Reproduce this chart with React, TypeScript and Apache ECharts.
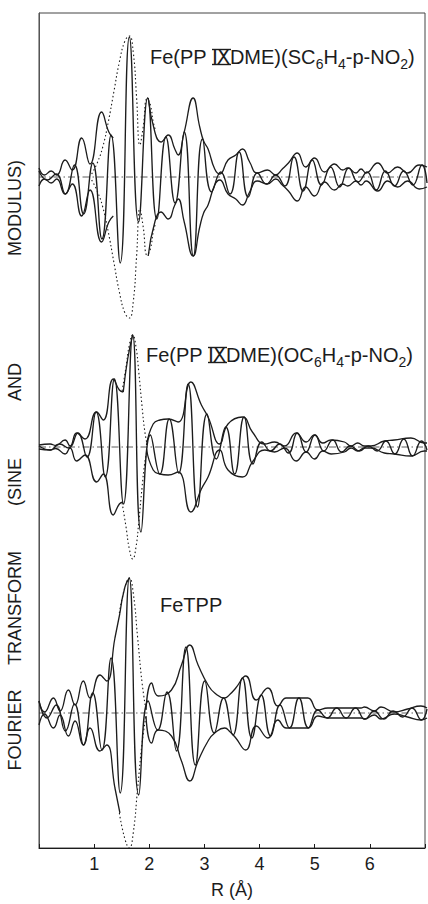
import React, { useEffect, useRef } from "react";
import * as echarts from "echarts";

// x axis (R, Å)
const xTickLabels = ["1", "2", "3", "4", "5", "6"];

// ---------- Panel 1: Fe(PP IX DME)(SC6H4-p-NO2) ----------
const env1Left: number[][] = [[0, 9], [0.1, 2], [0.22, 6], [0.32, 2], [0.47, 17], [0.6, 7], [0.77, 39], [0.92, 13], [1.13, 65], [1.26, 45], [1.34, 39]];
const env1Right: number[][] = [[1.97, 79], [2.09, 45], [2.2, 35], [2.33, 42], [2.45, 28], [2.51, 22], [2.62, 45], [2.78, 79], [2.9, 50], [2.97, 36], [3.05, 28], [3.17, 8], [3.26, 3], [3.41, 17], [3.55, 22], [3.67, 28], [3.8, 15], [3.94, 4], [4.12, 7], [4.27, 2], [4.39, 8], [4.5, 14], [4.66, 24], [4.81, 10], [4.97, 19], [5.15, 5], [5.33, 13], [5.48, 7], [5.57, 9], [5.72, 4], [5.81, 8], [5.9, 4], [6.11, 14], [6.29, 4], [6.47, 10], [6.65, 4], [6.86, 12], [7, 10]];
const env1UpperPeak: number[][] = [];
const dotted1: number[][] = [[0.95, 3], [1.05, 14], [1.15, 30], [1.25, 55], [1.35, 85], [1.45, 115], [1.55, 136], [1.63, 141], [1.7, 125], [1.76, 80], [1.82, 32], [1.88, 50], [1.95, 78], [2.01, 72], [2.06, 55], [2.1, 47]];
const sine1: number[][] = [[0, 6], [0.145, -3], [0.31, 3], [0.475, -17], [0.64, 12], [0.805, -37], [0.97, 14], [1.135, -62], [1.3, 42], [1.465, -86], [1.63, 140], [1.795, -45], [1.96, 79], [2.125, -42], [2.29, 40], [2.455, -26], [2.62, 45], [2.785, -79], [2.95, 38], [3.115, -15], [3.28, 5], [3.445, -17], [3.61, 25], [3.775, -20], [3.94, 4], [4.105, -7], [4.27, 2], [4.435, -9], [4.6, 20], [4.765, -14], [4.93, 17], [5.095, -8], [5.26, 10], [5.425, -10], [5.59, 9], [5.755, -5], [5.92, 5], [6.085, -13], [6.25, 6], [6.415, -9], [6.58, 6], [6.745, -8], [6.91, 12], [7, -6]];

// ---------- Panel 2: Fe(PP IX DME)(OC6H4-p-NO2) ----------
const env2Left: number[][] = [[0, 2], [0.2, 3], [0.3, 1.5], [0.47, 7], [0.56, 1], [0.68, 14], [0.83, 8], [1.04, 35], [1.16, 27], [1.34, 68], [1.45, 57], [1.52, 55]];
const env2Right: number[][] = [[1.94, 2], [2.06, 23], [2.18, 27], [2.33, 28], [2.51, 25], [2.74, 65], [2.93, 42], [3.05, 30], [3.26, 3], [3.41, 23], [3.67, 30], [3.85, 15], [4.07, 3], [4.25, 5], [4.43, 1], [4.64, 14], [4.82, 5], [4.97, 12], [5.12, 4], [5.27, 7], [5.51, 5], [5.63, 1], [5.75, 4], [5.87, 1], [5.99, 1], [6.23, 6], [6.41, 7], [6.71, 9], [6.95, 4], [7, 4]];
const env2UpperPeak: number[][] = [[1.52, 55], [1.6, 88], [1.69, 112]];
const dotted2: number[][] = [[1.5, 56], [1.57, 80], [1.63, 102], [1.69, 112], [1.75, 100], [1.8, 75], [1.86, 40], [1.91, 15], [1.95, 3]];
const sine2: number[][] = [[0, 1], [0.205, -3], [0.37, 3], [0.535, -1], [0.7, 14], [0.865, -10], [1.03, 35], [1.195, -30], [1.36, 68], [1.525, -57], [1.69, 112], [1.84, -85], [2.01, 12], [2.18, -27], [2.35, 28], [2.52, -26], [2.69, 63], [2.86, -60], [3.03, 33], [3.2, -12], [3.37, 20], [3.53, -27], [3.7, 30], [3.86, -17], [4.02, 5], [4.18, -4], [4.34, 3], [4.5, -6], [4.66, 14], [4.82, -5], [4.98, 12], [5.14, -4], [5.3, 7], [5.46, -5], [5.62, 1], [5.78, -4], [5.94, 1], [6.1, -4], [6.26, 6], [6.42, -7], [6.58, 8], [6.74, -9], [6.9, 6], [7, -3]];

// ---------- Panel 3: FeTPP ----------
const env3Left: number[][] = [[0, 12], [0.1, 1], [0.26, 15], [0.38, 2], [0.53, 23], [0.65, 8], [0.8, 32], [0.92, 15], [1.1, 38], [1.22, 32], [1.37, 75], [1.46, 100]];
const env3Right: number[][] = [[1.93, 3], [2.03, 30], [2.15, 17], [2.39, 23], [2.57, 48], [2.72, 68], [2.87, 48], [3.05, 28], [3.17, 20], [3.35, 15], [3.45, 19], [3.55, 25], [3.73, 37], [3.92, 13], [4.13, 25], [4.31, 7], [4.46, 15], [4.65, 15], [4.85, 15], [5.03, 3], [5.21, 5], [5.5, 5], [5.81, 5], [5.87, 6], [6.05, 2], [6.17, 6], [6.41, 1], [6.65, 4], [6.89, 7], [7, 5]];
const env3UpperPeak: number[][] = [[1.46, 100], [1.55, 126], [1.63, 135]];
const dotted3: number[][] = [[1.45, 100], [1.55, 126], [1.63, 135], [1.7, 120], [1.78, 75], [1.86, 30], [1.93, 3]];
const sine3: number[][] = [[0, 12], [0.145, -5], [0.31, 8], [0.475, -18], [0.64, 9], [0.805, -32], [0.97, 20], [1.135, -37], [1.3, 55], [1.465, -80], [1.63, 135], [1.8, -82], [1.97, 12], [2.14, -17], [2.31, 21], [2.48, -38], [2.65, 66], [2.82, -52], [2.99, 32], [3.16, -20], [3.33, 15], [3.5, -22], [3.67, 35], [3.84, -25], [4.01, 18], [4.18, -23], [4.35, 8], [4.52, -15], [4.69, 15], [4.86, -15], [5.03, 3], [5.2, -5], [5.37, 5], [5.54, -5], [5.71, 5], [5.88, -6], [6.05, 2], [6.22, -6], [6.39, 2], [6.56, -4], [6.73, 5], [6.9, -7], [7, 4]];

const panelLabels = [
  "Fe(PP \u2168DME)(SC{s|6}H{s|4}-p-NO{s|2})",
  "Fe(PP \u2168DME)(OC{s|6}H{s|4}-p-NO{s|2})",
  "FeTPP",
];
const yTitleWords = ["FOURIER", "TRANSFORM", "(SINE", "AND", "MODULUS)"];
const xName = "R (\u00C5)";

const INK = "#1c1c1c";
const FONT = "'Liberation Sans', Arial, Helvetica, sans-serif";

export default function App() {
  const ref = useRef<HTMLDivElement>(null);
  useEffect(() => {
    if (!ref.current) return;
    const chart = echarts.init(ref.current, null, { renderer: "svg" });

    const panels = [
      { l: env1Left, r: env1Right, u: env1UpperPeak, d: dotted1, s: sine1, base: 177 },
      { l: env2Left, r: env2Right, u: env2UpperPeak, d: dotted2, s: sine2, base: 447 },
      { l: env3Left, r: env3Right, u: env3UpperPeak, d: dotted3, s: sine3, base: 713 },
    ];
    const HALF = 150;
    const neg = (d: number[][]) => d.map(([x, v]) => [x, -v]);

    const grids: any[] = [
      { left: 39, right: 1, top: 13, bottom: 46, show: true, borderColor: "#444", borderWidth: 1 },
    ];
    const xAxes: any[] = [
      {
        gridIndex: 0, type: "value", min: 0, max: 7, interval: 1,
        axisLine: { show: true, lineStyle: { color: INK, width: 1 } },
        axisTick: { show: true, inside: true, length: 4, lineStyle: { color: INK } },
        splitLine: { show: false },
        axisLabel: {
          color: INK, fontSize: 18, fontFamily: FONT, margin: 7,
          formatter: (v: number) => (v >= 1 && v <= 6 ? xTickLabels[Math.round(v) - 1] : ""),
        },
        name: xName, nameLocation: "middle", nameGap: 33,
        nameTextStyle: { color: INK, fontSize: 18, fontFamily: FONT },
      },
    ];
    const yAxes: any[] = [
      {
        gridIndex: 0, type: "value", min: 0, max: 1,
        axisLine: { show: true, lineStyle: { color: "#555", width: 1 } },
        axisTick: { show: false }, axisLabel: { show: false }, splitLine: { show: false },
      },
    ];
    const series: any[] = [];
    const line = (data: number[][], gi: number, style: any, smooth = 0.5) => ({
      type: "line", xAxisIndex: gi, yAxisIndex: gi, data, smooth, symbol: "none",
      silent: true, clip: false,
      lineStyle: { color: INK, width: 1.3, ...style },
    });

    panels.forEach((p, i) => {
      const gi = i + 1;
      grids.push({ left: 39, right: 1, top: p.base - HALF, height: HALF * 2 });
      xAxes.push({ gridIndex: gi, type: "value", min: 0, max: 7, show: false });
      yAxes.push({ gridIndex: gi, type: "value", min: -HALF, max: HALF, show: false });
      series.push(line([[0, 0], [7, 0]], gi, { width: 0.8, type: [7, 3, 1.5, 3], color: "#333" }, 0));
      series.push(line(p.l, gi, {}));
      series.push(line(neg(p.l), gi, {}));
      series.push(line(p.r, gi, {}));
      series.push(line(neg(p.r), gi, {}));
      if (p.u.length) series.push(line(p.u, gi, {}));
      series.push(line(p.d, gi, { type: [1.5, 2.5], width: 1.1 }));
      series.push(line(neg(p.d), gi, { type: [1.5, 2.5], width: 1.1 }));
      series.push(line(p.s, gi, { width: 1.35 }));
    });

    const labelPos = [
      { x: 150, y: 57 },
      { x: 146, y: 355 },
      { x: 160, y: 605 },
    ];
    const graphics: any[] = panelLabels.map((t, i) => ({
      type: "text",
      x: labelPos[i].x,
      y: labelPos[i].y,
      style: {
        text: t,
        fill: INK,
        font: `20px ${FONT}`,
        verticalAlign: "middle",
        align: "left",
        rich: { s: { fontSize: 14, fontFamily: FONT, padding: [14, 0, 0, 0], fill: INK } },
      },
    }));
    // bars above and below the roman numeral IX, as printed in the original
    [0, 1].forEach((i) => {
      const x0 = labelPos[i].x + 62;
      const yc = labelPos[i].y;
      [-7.5, 7.5].forEach((dy) => {
        graphics.push({
          type: "line",
          shape: { x1: x0, y1: yc + dy, x2: x0 + 19, y2: yc + dy },
          style: { stroke: INK, lineWidth: 1.4 },
        });
      });
    });
    const wordY = [730, 608, 482, 382, 208];
    yTitleWords.forEach((w, i) => {
      graphics.push({
        type: "text",
        x: 15,
        y: wordY[i],
        rotation: Math.PI / 2,
        style: { text: w, fill: INK, font: `18px ${FONT}`, align: "center", verticalAlign: "middle" },
      });
    });

    chart.setOption({
      animation: false,
      backgroundColor: "#ffffff",
      grid: grids,
      xAxis: xAxes,
      yAxis: yAxes,
      series,
      graphic: graphics,
    });
    return () => chart.dispose();
  }, []);

  return (
    <div
      ref={ref}
      style={{ position: "absolute", left: 0, top: 0, width: 428, height: 904, background: "#fff" }}
    />
  );
}
